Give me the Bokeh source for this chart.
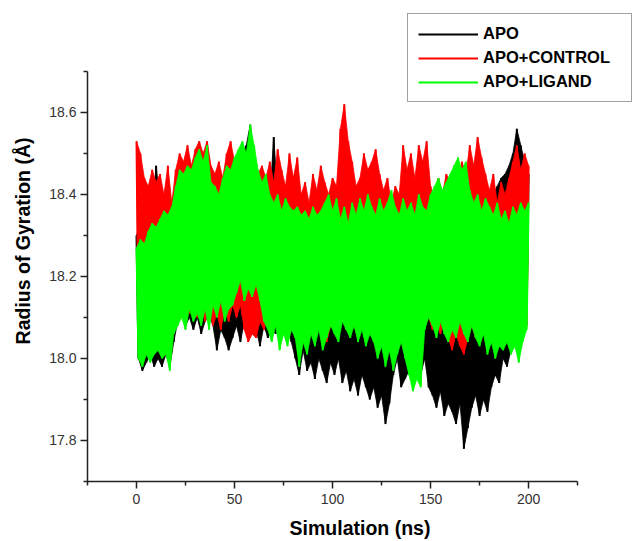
from bokeh.plotting import figure
from bokeh.models import Legend, LegendItem, FixedTicker, PrintfTickFormatter, Range1d
from bokeh.embed import file_html
from bokeh.resources import INLINE

# ---- data (Rg in Å), sampled: highs at even ns, lows at odd ns ----
t_hi = list(range(0, 201, 2))
t_lo = list(range(1, 200, 2))

apo_hi = [18.30, 18.33, 18.35, 18.32, 18.36, 18.47, 18.38, 18.34, 18.36, 18.38,
          18.42, 18.44, 18.46, 18.49, 18.45, 18.47, 18.44, 18.48, 18.52, 18.45,
          18.42, 18.40, 18.43, 18.45, 18.47, 18.46, 18.48, 18.50, 18.52, 18.57,
          18.48, 18.44, 18.41, 18.43, 18.39, 18.54, 18.40, 18.37, 18.39, 18.36,
          18.38, 18.35, 18.37, 18.34, 18.36, 18.35, 18.37, 18.34, 18.36, 18.35,
          18.33, 18.36, 18.34, 18.35, 18.32, 18.34, 18.31, 18.35, 18.33, 18.36,
          18.34, 18.32, 18.35, 18.31, 18.33, 18.36, 18.33, 18.35, 18.32, 18.36,
          18.34, 18.37, 18.35, 18.38, 18.36, 18.38, 18.40, 18.37, 18.41, 18.39,
          18.42, 18.40, 18.44, 18.41, 18.43, 18.40, 18.38, 18.41, 18.37, 18.39,
          18.38, 18.40, 18.42, 18.44, 18.45, 18.47, 18.50, 18.56, 18.52, 18.48,
          18.45]
apo_lo = [18.00, 17.97, 17.99, 18.01, 17.98, 18.00, 17.98, 18.01, 17.98, 18.04,
          18.09, 18.11, 18.08, 18.10, 18.07, 18.10, 18.06, 18.09, 18.11, 18.08,
          18.02, 18.07, 18.05, 18.02, 18.05, 18.08, 18.04, 18.09, 18.06, 18.10,
          18.07, 18.03, 18.08, 18.05, 18.07, 18.06, 18.09, 18.07, 18.08, 18.04,
          18.00, 17.96, 18.02, 17.97, 17.99, 17.95, 18.00, 17.97, 17.94, 17.99,
          17.96, 18.00, 17.94, 17.97, 17.92, 17.95, 17.91, 17.96, 17.93, 17.90,
          17.93, 17.88, 17.91, 17.84, 17.89, 17.96, 18.00, 17.93, 17.95, 17.97,
          17.94, 17.98, 17.96, 18.00, 17.93, 17.91, 17.88, 17.92, 17.86, 17.89,
          17.87, 17.84, 17.89, 17.78, 17.83, 17.88, 17.91, 17.86, 17.90, 17.87,
          17.93, 17.96, 17.94, 18.00, 17.98, 18.02, 18.06, 18.09, 18.11, 18.12]

ctrl_hi = [18.53, 18.50, 18.44, 18.42, 18.46, 18.43, 18.45, 18.40, 18.47, 18.38,
           18.46, 18.50, 18.48, 18.52, 18.47, 18.51, 18.53, 18.50, 18.53, 18.47,
           18.45, 18.48, 18.44, 18.50, 18.53, 18.48, 18.45, 18.50, 18.47, 18.52,
           18.49, 18.45, 18.47, 18.44, 18.48, 18.43, 18.51, 18.46, 18.42, 18.50,
           18.44, 18.49, 18.40, 18.43, 18.38, 18.45, 18.41, 18.47, 18.43, 18.40,
           18.44, 18.42, 18.56, 18.62, 18.53, 18.48, 18.42, 18.44, 18.50, 18.46,
           18.48, 18.51, 18.45, 18.41, 18.44, 18.38, 18.42, 18.40, 18.52, 18.46,
           18.50, 18.44, 18.52, 18.48, 18.53, 18.42, 18.38, 18.44, 18.40, 18.45,
           18.43, 18.47, 18.42, 18.48, 18.45, 18.52, 18.47, 18.54, 18.49, 18.45,
           18.41, 18.45, 18.38, 18.43, 18.40, 18.44, 18.48, 18.52, 18.46, 18.50,
           18.47]
ctrl_lo = [18.05, 18.08, 18.03, 18.06, 18.04, 18.07, 18.03, 18.05, 18.02, 18.06,
           18.12, 18.10, 18.14, 18.11, 18.13, 18.10, 18.13, 18.09, 18.12, 18.08,
           18.11, 18.07, 18.12, 18.09, 18.13, 18.10, 18.13, 18.07, 18.04, 18.06,
           18.05, 18.09, 18.07, 18.10, 18.06, 18.09, 18.05, 18.08, 18.06, 18.10,
           18.07, 18.04, 18.08, 18.05, 18.09, 18.06, 18.10, 18.07, 18.04, 18.08,
           18.09, 18.06, 18.10, 18.07, 18.11, 18.08, 18.05, 18.09, 18.06, 18.10,
           18.07, 18.04, 18.08, 18.05, 18.07, 18.06, 18.09, 18.05, 18.08, 18.06,
           18.03, 18.06, 18.04, 18.08, 18.10, 18.07, 18.10, 18.06, 18.09, 18.05,
           18.02, 18.06, 18.03, 18.01, 18.05, 18.08, 18.05, 18.09, 18.06, 18.08,
           18.05, 18.08, 18.04, 18.07, 18.05, 18.06, 18.09, 18.07, 18.10, 18.08]

lig_hi = [18.27, 18.29, 18.28, 18.31, 18.33, 18.32, 18.34, 18.36, 18.35, 18.37,
          18.42, 18.46, 18.45, 18.47, 18.46, 18.49, 18.51, 18.48, 18.52, 18.43,
          18.42, 18.40, 18.44, 18.47, 18.46, 18.49, 18.51, 18.53, 18.50, 18.57,
          18.52, 18.46, 18.43, 18.45, 18.40, 18.38, 18.40, 18.36, 18.39, 18.37,
          18.36, 18.37, 18.35, 18.36, 18.34, 18.37, 18.35, 18.36, 18.38, 18.40,
          18.36, 18.39, 18.34, 18.37, 18.33, 18.38, 18.35, 18.39, 18.36, 18.40,
          18.37, 18.35, 18.39, 18.36, 18.38, 18.41, 18.37, 18.35, 18.39, 18.36,
          18.38, 18.35, 18.40, 18.37, 18.36, 18.40, 18.42, 18.44, 18.41, 18.43,
          18.45, 18.47, 18.49, 18.46, 18.48, 18.41, 18.38, 18.40, 18.36, 18.39,
          18.37, 18.35, 18.38, 18.34, 18.36, 18.33, 18.37, 18.35, 18.38, 18.36,
          18.38]
lig_lo = [18.00, 17.98, 18.01, 17.99, 18.01, 18.02, 18.00, 18.01, 17.97, 18.06,
          18.08, 18.10, 18.07, 18.12, 18.09, 18.11, 18.08, 18.12, 18.07, 18.13,
          18.10, 18.14, 18.09, 18.12, 18.13, 18.16, 18.19, 18.14, 18.17, 18.15,
          18.18, 18.14, 18.09, 18.07, 18.04, 18.08, 18.02, 18.06, 18.03, 18.07,
          18.05, 17.98, 18.04, 18.01, 18.06, 18.03, 18.07, 18.02, 18.05, 18.08,
          18.06, 18.04, 18.09, 18.07, 18.05, 18.08, 18.04, 18.07, 18.03, 18.06,
          18.04, 18.00, 18.03, 17.98, 18.02, 17.97, 18.01, 18.04, 18.00, 17.96,
          17.92, 17.95, 17.93, 18.07, 18.10, 18.08, 18.05, 18.09, 18.06, 18.04,
          18.07, 18.05, 18.09, 18.06, 18.04, 18.08, 18.05, 18.03, 18.06, 18.01,
          18.04, 18.00, 18.03, 18.02, 18.04, 18.01, 18.03, 17.99, 18.04, 18.07]

labels = ["APO", "APO+CONTROL", "APO+LIGAND"]
colors = ["#000000", "#FF0000", "#00FF00"]
x_ticks = [0, 50, 100, 150, 200]
x_minor = [-25, 25, 75, 125, 175, 225]
y_ticks = [17.8, 18.0, 18.2, 18.4, 18.6]
y_minor = [17.7, 17.9, 18.1, 18.3, 18.5, 18.7]


def interleave(hi, lo):
    xs, ys = [], []
    for i in range(len(lo)):
        xs += [t_hi[i], t_lo[i]]
        ys += [hi[i], lo[i]]
    xs.append(t_hi[-1])
    ys.append(hi[-1])
    return xs, ys


FONT = "Liberation Sans"

# frame spans the right/top edges so the legend can sit where the reference has it;
# the axes themselves are bounded to the reference's ranges
p = figure(width=632, height=541, x_range=Range1d(-25, 253), y_range=Range1d(17.7, 18.873),
           output_backend="svg", toolbar_location=None,
           min_border_left=87, min_border_right=0, min_border_top=0, min_border_bottom=60,
           x_axis_label="Simulation (ns)", y_axis_label="Radius of Gyration (\u00c5)")
p.xgrid.visible = False
p.ygrid.visible = False
p.outline_line_color = None
p.background_fill_color = "white"

line_renderers = []
for hi, lo, c in [(apo_hi, apo_lo, colors[0]), (ctrl_hi, ctrl_lo, colors[1]), (lig_hi, lig_lo, colors[2])]:
    # trace envelope: local maxima (even ns) forward, local minima (odd ns) back
    p.patch(t_hi + t_lo[::-1], hi + lo[::-1], fill_color=c, line_color=c, line_width=0.8)
    xs, ys = interleave(hi, lo)
    r = p.line(xs, ys, line_color=c, line_width=2)
    line_renderers.append(r)

xax = p.xaxis[0]
yax = p.yaxis[0]
xax.ticker = FixedTicker(ticks=x_ticks, minor_ticks=x_minor)
yax.ticker = FixedTicker(ticks=y_ticks, minor_ticks=y_minor)
xax.formatter = PrintfTickFormatter(format="%d")
yax.formatter = PrintfTickFormatter(format="%.1f")
xax.bounds = (-25, 225)
yax.bounds = (17.7, 18.7)

for ax in (xax, yax):
    ax.axis_line_color = "#222222"
    ax.axis_line_width = 1.5
    ax.major_tick_line_color = "#222222"
    ax.major_tick_line_width = 1.5
    ax.minor_tick_line_color = "#222222"
    ax.minor_tick_line_width = 1.5
    ax.major_tick_out = 7
    ax.major_tick_in = 0
    ax.minor_tick_out = 4
    ax.minor_tick_in = 0
    ax.major_label_text_font = FONT
    ax.major_label_text_font_size = "14px"
    ax.major_label_text_color = "#333333"
    ax.axis_label_text_font = FONT
    ax.axis_label_text_font_style = "bold"
    ax.axis_label_text_font_size = "19.5px"
    ax.axis_label_text_color = "#000000"

xax.major_label_standoff = 5
xax.axis_label_standoff = 10
yax.major_label_standoff = 4
yax.axis_label_standoff = 12

legend = Legend(items=[LegendItem(label=l, renderers=[r]) for l, r in zip(labels, line_renderers)],
                location=(320, 379), padding=10, margin=0,
                glyph_width=60, glyph_height=16, label_height=16, label_width=138,
                spacing=5, label_standoff=5,
                border_line_color="#444444", border_line_width=1.5,
                background_fill_color="white", background_fill_alpha=1,
                label_text_font=FONT, label_text_font_style="bold",
                label_text_font_size="16.5px", label_text_color="#000000")
p.add_layout(legend)

open("out.html", "w").write(file_html(p, INLINE))
